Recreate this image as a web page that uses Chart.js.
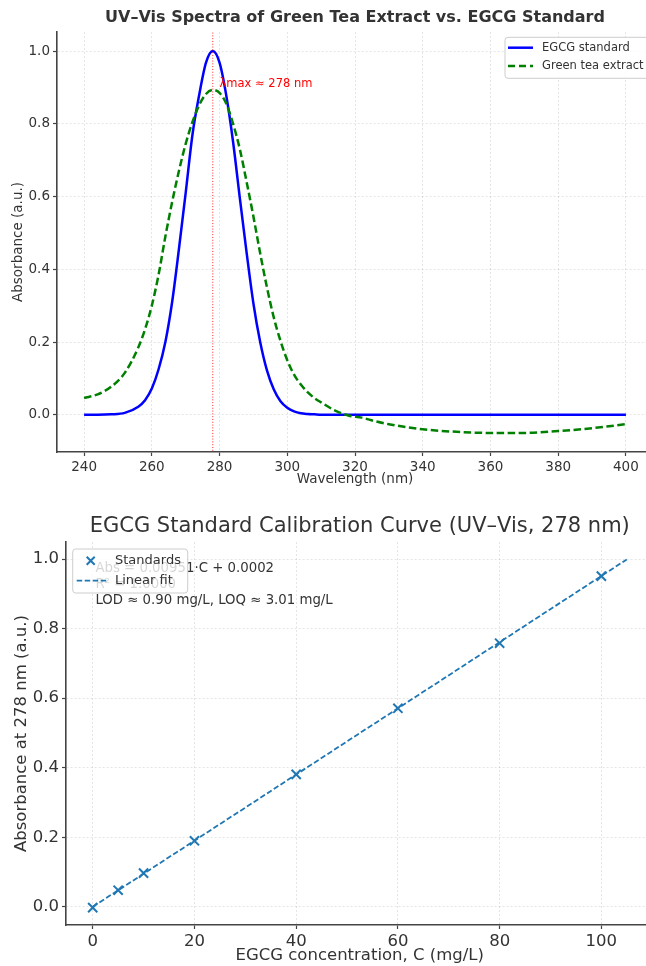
<!DOCTYPE html>
<html>
<head>
<meta charset="utf-8">
<script src="https://cdn.jsdelivr.net/npm/chart.js@4.4.1/dist/chart.umd.min.js"></script>
<style>
html, body { margin: 0; padding: 0; background: #fff; overflow: hidden; width: 646px; height: 966px; }
canvas { position: absolute; left: 0; }
#spectra { top: 0; }
#calib { top: 490px; }
</style>
</head>
<body>
<canvas id="spectra" width="680" height="490"></canvas>
<canvas id="calib" width="680" height="490"></canvas>
<script>
// --- UV-Vis spectra ---
const wavelengths = [240, 244, 248, 252, 256, 258, 260, 262, 264, 266, 268, 270, 272, 274, 276, 278,
    280, 282, 284, 286, 288, 290, 292, 294, 296, 298, 300, 302, 304, 306, 308, 310, 314, 318, 322, 326,
    330, 340, 350, 360, 370, 380, 390, 400];
const egcgStandard = [0.000, 0.000, 0.001, 0.005, 0.022, 0.040, 0.072, 0.125, 0.200, 0.310, 0.455, 0.610, 0.770, 0.880, 0.968, 1.000,
    0.968, 0.877, 0.750, 0.595, 0.445, 0.306, 0.200, 0.122, 0.070, 0.037, 0.019, 0.009, 0.004, 0.002, 0.001, 0.000, 0.000, 0.000, 0.000, 0.000,
    0.000, 0.000, 0.000, 0.000, 0.000, 0.000, 0.000, 0.000];
const greenTea = [0.046, 0.056, 0.077, 0.115, 0.185, 0.235, 0.300, 0.385, 0.490, 0.585, 0.670, 0.745, 0.805, 0.852, 0.882, 0.893,
    0.885, 0.855, 0.800, 0.730, 0.640, 0.545, 0.444, 0.350, 0.268, 0.203, 0.150, 0.110, 0.083, 0.062, 0.046, 0.034, 0.012, -0.002, -0.008, -0.018,
    -0.026, -0.040, -0.047, -0.050, -0.050, -0.045, -0.037, -0.026];
const lambdaMax = 278;
const spectraXTicks = [240, 260, 280, 300, 320, 340, 360, 380, 400];
const absTicks = [0.0, 0.2, 0.4, 0.6, 0.8, 1.0];

// --- calibration curve ---
const concentrations = [0, 5, 10, 20, 40, 60, 80, 100];
const standardsAbs = [-0.002, 0.048, 0.097, 0.190, 0.381, 0.571, 0.758, 0.951];
const fitConc = [0, 105];
const fitAbs = [0.0002, 0.9988];
const concTicks = [0, 20, 40, 60, 80, 100];

const spectraTitle = 'UV\u2013Vis Spectra of Green Tea Extract vs. EGCG Standard';
const calibTitle = 'EGCG Standard Calibration Curve (UV\u2013Vis, 278 nm)';
const peakNote = '\u03bbmax \u2248 278 nm';
const calibNotes = ['Abs = 0.00951\u00b7C + 0.0002', 'R\u00b2 = 1.0000', 'LOD \u2248 0.90 mg/L, LOQ \u2248 3.01 mg/L'];

const FONT = '"DejaVu Sans", "Liberation Sans", sans-serif';
const TEXT = '#333';
const AXIS = '#444';

function toPoints(xs, ys) {
    return xs.map((x, i) => ({ x: x, y: ys[i] }));
}

function scaleOpts(min, max, tickValues, fmt, size, title, titlePad, fitSize, isY) {
    return {
        type: 'linear',
        min: min,
        max: max,
        afterBuildTicks: s => { s.ticks = tickValues.map(v => ({ value: v })); },
        afterFit: s => { if (isY) s.width = fitSize; else s.height = fitSize; },
        ticks: { color: TEXT, font: { family: FONT, size: size }, padding: 3, callback: fmt },
        grid: { color: 'rgba(0,0,0,0.13)', lineWidth: 0.8, tickColor: AXIS, tickLength: 4, tickWidth: 1.2 },
        border: { color: AXIS, width: 1.6, dash: [2, 2] },
        title: { display: true, text: title, color: TEXT, font: { family: FONT, size: size }, padding: titlePad }
    };
}

function drawLegend(ctx, box, items, fontSize) {
    ctx.save();
    ctx.beginPath();
    ctx.roundRect(box.x, box.y, box.w, box.h, 3);
    ctx.fillStyle = 'rgba(255,255,255,0.8)';
    ctx.fill();
    ctx.strokeStyle = 'rgba(200,200,200,0.9)';
    ctx.lineWidth = 1;
    ctx.stroke();
    ctx.font = fontSize + 'px ' + FONT;
    ctx.textAlign = 'left';
    ctx.textBaseline = 'middle';
    items.forEach(it => {
        const y = box.y + it.row;
        ctx.strokeStyle = it.color;
        if (it.marker) {
            const r = 4;
            const mx = box.x + it.marker;
            ctx.lineWidth = 2;
            ctx.setLineDash([]);
            ctx.beginPath();
            ctx.moveTo(mx - r, y - r); ctx.lineTo(mx + r, y + r);
            ctx.moveTo(mx - r, y + r); ctx.lineTo(mx + r, y - r);
            ctx.stroke();
        } else {
            ctx.lineWidth = it.width;
            ctx.setLineDash(it.dash);
            ctx.beginPath();
            ctx.moveTo(box.x + it.x0, y);
            ctx.lineTo(box.x + it.x1, y);
            ctx.stroke();
        }
        ctx.setLineDash([]);
        ctx.fillStyle = TEXT;
        ctx.fillText(it.label, box.x + it.tx, y);
    });
    ctx.restore();
}

// Decorations for the spectra chart
const spectraDecor = {
    id: 'spectraDecor',
    afterDraw(chart) {
        const { ctx, chartArea: a, scales } = chart;
        ctx.save();
        ctx.fillStyle = TEXT;
        ctx.font = 'bold 16px ' + FONT;
        ctx.textAlign = 'center';
        ctx.textBaseline = 'middle';
        ctx.fillText(spectraTitle, (a.left + a.right) / 2, 18);

        ctx.fillStyle = 'red';
        ctx.font = '11.5px ' + FONT;
        ctx.textAlign = 'left';
        ctx.textBaseline = 'alphabetic';
        ctx.fillText(peakNote, scales.x.getPixelForValue(lambdaMax + 2), scales.y.getPixelForValue(0.9));
        ctx.restore();

        const ds = chart.data.datasets;
        drawLegend(ctx, { x: a.right - 148, y: a.top + 5.3, w: 144, h: 41 }, [
            { label: ds[0].label, color: ds[0].borderColor, width: 2.5, dash: [], x0: 3, x1: 28, tx: 37, row: 10.4 },
            { label: ds[1].label, color: ds[1].borderColor, width: 2.5, dash: [7, 4], x0: 3, x1: 28, tx: 37, row: 28.7 }
        ], 11.5);
    }
};

new Chart(document.getElementById('spectra').getContext('2d'), {
    type: 'line',
    data: {
        datasets: [{
            label: 'EGCG standard',
            data: toPoints(wavelengths, egcgStandard),
            borderColor: '#0000ff',
            borderWidth: 2.5,
            pointRadius: 0,
            cubicInterpolationMode: 'monotone',
            order: 2
        }, {
            label: 'Green tea extract',
            data: toPoints(wavelengths, greenTea),
            borderColor: '#008000',
            borderWidth: 2.5,
            borderDash: [7.5, 3.5],
            pointRadius: 0,
            cubicInterpolationMode: 'monotone',
            order: 1
        }, {
            label: 'lambda max',
            data: [{ x: lambdaMax, y: -1 }, { x: lambdaMax, y: 2 }],
            borderColor: 'rgba(255,0,0,0.85)',
            borderWidth: 1,
            borderDash: [1, 1.8],
            pointRadius: 0,
            order: 0
        }]
    },
    options: {
        responsive: false,
        animation: false,
        layout: { padding: { top: 32, right: 27, left: 0, bottom: 0 } },
        plugins: { legend: { display: false }, title: { display: false }, tooltip: { enabled: false } },
        scales: {
            x: scaleOpts(232, 408, spectraXTicks, v => v, 13.5, 'Wavelength (nm)', { top: 0, bottom: 2 }, 38, false),
            y: scaleOpts(-0.1025, 1.0525, absTicks, v => v.toFixed(1), 13.5, 'Absorbance (a.u.)', { top: 10, bottom: 0 }, 57, true)
        }
    },
    plugins: [spectraDecor]
});

// Decorations for the calibration chart
const calibDecor = {
    id: 'calibDecor',
    afterDraw(chart) {
        const { ctx, chartArea: a } = chart;
        ctx.save();
        ctx.fillStyle = TEXT;
        ctx.font = '21px ' + FONT;
        ctx.textAlign = 'center';
        ctx.textBaseline = 'middle';
        ctx.fillText(calibTitle, (a.left + a.right) / 2, 37);

        ctx.font = '13.3px ' + FONT;
        ctx.textAlign = 'left';
        const tx = a.left + 0.05 * (a.right - a.left);
        const ty = a.top + 0.05 * (a.bottom - a.top);
        calibNotes.forEach((line, i) => ctx.fillText(line, tx, ty + 7 + i * 16));
        ctx.restore();

        const ds = chart.data.datasets;
        drawLegend(ctx, { x: a.left + 6.7, y: a.top + 7, w: 115, h: 44 }, [
            { label: ds[0].label, color: ds[0].borderColor, marker: 18, tx: 42.3, row: 11.7 },
            { label: ds[1].label, color: ds[1].borderColor, width: 1.8, dash: [5.5, 2.5], x0: 4, x1: 34, tx: 42.3, row: 31.7 }
        ], 13);
    }
};

new Chart(document.getElementById('calib').getContext('2d'), {
    type: 'scatter',
    data: {
        datasets: [{
            label: 'Standards',
            data: toPoints(concentrations, standardsAbs),
            borderColor: '#1f77b4',
            backgroundColor: '#1f77b4',
            pointStyle: 'crossRot',
            pointRadius: 6.5,
            borderWidth: 2,
            showLine: false
        }, {
            type: 'line',
            label: 'Linear fit',
            data: toPoints(fitConc, fitAbs),
            borderColor: '#1f77b4',
            borderWidth: 1.8,
            borderDash: [5.5, 2.5],
            pointRadius: 0
        }]
    },
    options: {
        responsive: false,
        animation: false,
        layout: { padding: { top: 52, right: 26.5, left: 0, bottom: 0 } },
        plugins: { legend: { display: false }, title: { display: false }, tooltip: { enabled: false } },
        scales: {
            x: scaleOpts(-5.25, 110.25, concTicks, v => v, 16.5, 'EGCG concentration, C (mg/L)', { top: 0, bottom: 14 }, 55, false),
            y: scaleOpts(-0.052, 1.049, absTicks, v => v.toFixed(1), 16.5, 'Absorbance at 278 nm (a.u.)', { top: 12, bottom: 0 }, 66, true)
        }
    },
    plugins: [calibDecor]
});
</script>
</body>
</html>
